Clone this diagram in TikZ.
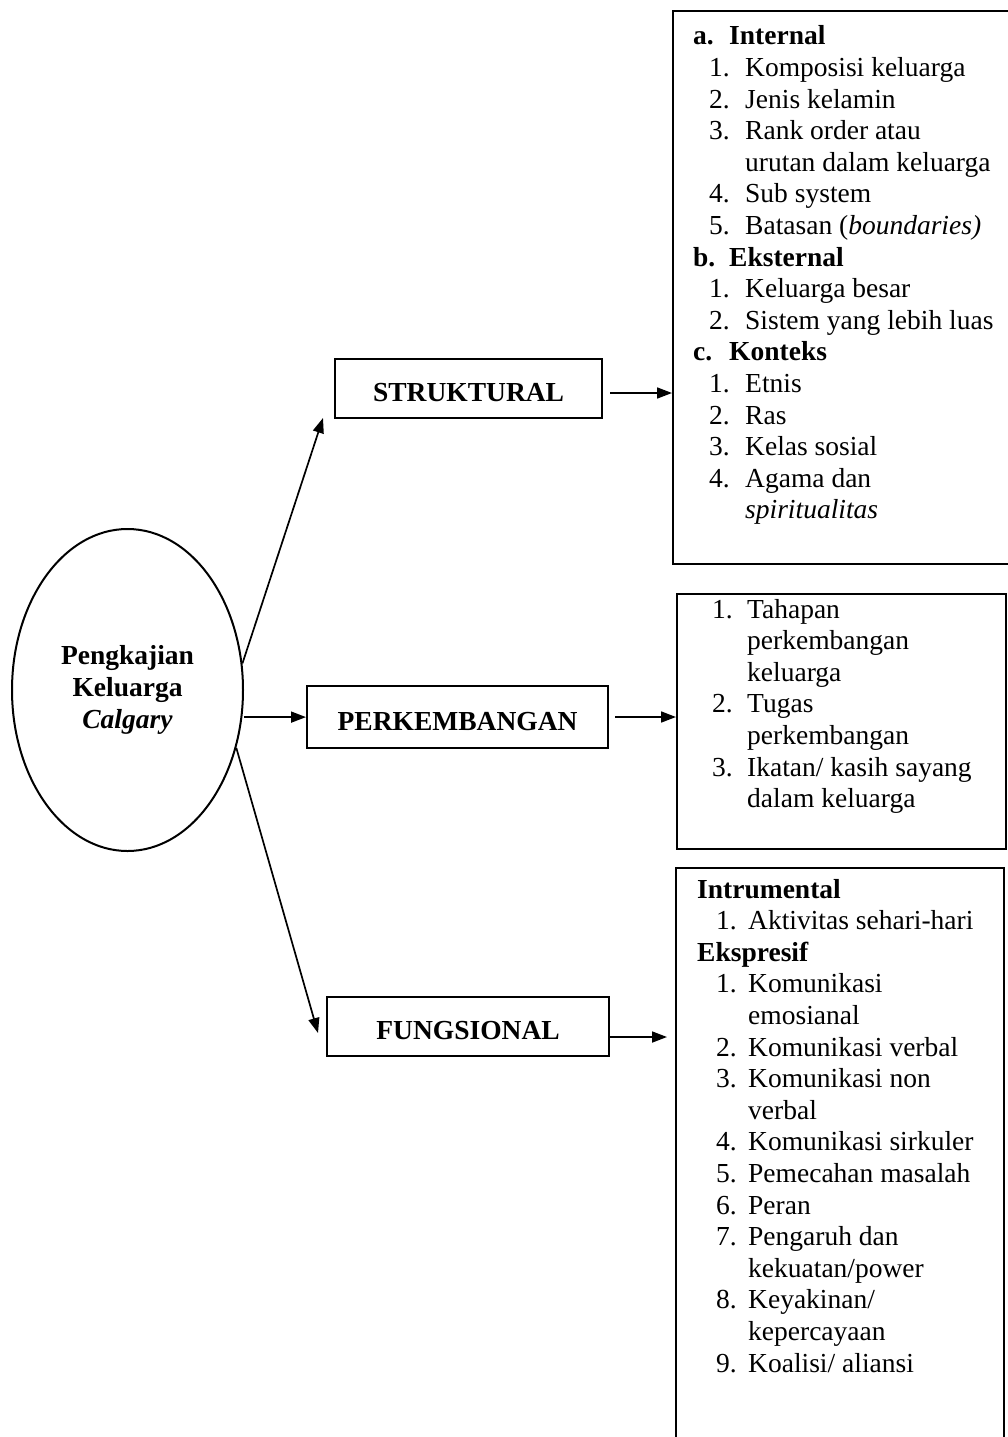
\documentclass[tikz,border=0pt]{standalone}
\usepackage{fontspec}
\setmainfont{Liberation Serif}
\usetikzlibrary{arrows.meta,shapes.geometric}
\newcommand\Hd[2]{\makebox[36pt][l]{\bfseries #1}\textbf{#2}}
\newcommand\ItA[1]{\hspace*{16pt}\makebox[36pt][l]{#1}}
\newcommand\CnA{\hspace*{52pt}}
\newcommand\ItB[1]{\makebox[35pt][l]{#1}}
\newcommand\CnB{\hspace*{35pt}}
\newcommand\ItC[1]{\hspace*{19pt}\makebox[32pt][l]{#1}}
\newcommand\CnC{\hspace*{51pt}}
\begin{document}
\begin{tikzpicture}[x=1pt,y=-1pt,
  box/.style={draw,line width=2.2pt,inner sep=0pt},
  lbl/.style={box,text height=26pt,text depth=0pt,font=\fontsize{27.5}{31.6}\selectfont\bfseries},
  conn/.style={line width=1.7pt,-{Triangle[length=15pt,width=11pt]}},
  lst/.style={inner sep=0pt,anchor=base west,font=\fontsize{27.5}{31.6}\selectfont}]
\useasboundingbox (0,0) rectangle (1008,1437);
\fill[white] (0,0) rectangle (1008,1437);

% central ellipse
\node[draw,line width=2pt,ellipse,minimum width=231pt,minimum height=322pt,inner sep=0pt,
      align=center,font=\fontsize{27.5}{32}\selectfont\bfseries] (root) at (127.5,690)
      {Pengkajian\\Keluarga\\\textit{Calgary}};

% middle labels
\node[lbl,minimum width=267pt,minimum height=59pt,anchor=north west] (strukt) at (334,358) {STRUKTURAL};
\node[lbl,minimum width=301pt,minimum height=62pt,anchor=north west] (perk) at (306,685) {PERKEMBANGAN};
\node[lbl,minimum width=282pt,minimum height=59pt,anchor=north west] (fung) at (326,996) {FUNGSIONAL};

% list boxes
\node[box,minimum width=345pt,minimum height=553pt,anchor=north west] (list1) at (672,10) {};
\node[box,minimum width=329pt,minimum height=255pt,anchor=north west] (list2) at (676,593) {};
\node[box,minimum width=328pt,minimum height=590pt,anchor=north west] (list3) at (675,867) {};

\node[lst] (t1) at (693,45) {\begin{tabular}[t]{@{}l@{}}
\Hd{a.}{Internal}\\
\ItA{1.}Komposisi keluarga\\
\ItA{2.}Jenis kelamin\\
\ItA{3.}Rank order atau\\
\CnA urutan dalam keluarga\\
\ItA{4.}Sub system\\
\ItA{5.}Batasan (\textit{boundaries)}\\
\Hd{b.}{Eksternal}\\
\ItA{1.}Keluarga besar\\
\ItA{2.}Sistem yang lebih luas\\
\Hd{c.}{Konteks}\\
\ItA{1.}Etnis\\
\ItA{2.}Ras\\
\ItA{3.}Kelas sosial\\
\ItA{4.}Agama dan\\
\CnA\textit{spiritualitas}
\end{tabular}};

\node[lst] (t2) at (712,618) {\begin{tabular}[t]{@{}l@{}}
\ItB{1.}Tahapan\\
\CnB perkembangan\\
\CnB keluarga\\
\ItB{2.}Tugas\\
\CnB perkembangan\\
\ItB{3.}Ikatan/ kasih sayang\\
\CnB dalam keluarga
\end{tabular}};

\node[lst] (t3) at (697,898) {\begin{tabular}[t]{@{}l@{}}
\textbf{Intrumental}\\
\ItC{1.}Aktivitas sehari-hari\\
\textbf{Ekspresif}\\
\ItC{1.}Komunikasi\\
\CnC emosianal\\
\ItC{2.}Komunikasi verbal\\
\ItC{3.}Komunikasi non\\
\CnC verbal\\
\ItC{4.}Komunikasi sirkuler\\
\ItC{5.}Pemecahan masalah\\
\ItC{6.}Peran\\
\ItC{7.}Pengaruh dan\\
\CnC kekuatan/power\\
\ItC{8.}Keyakinan/\\
\CnC kepercayaan\\
\ItC{9.}Koalisi/ aliansi
\end{tabular}};

% connectors
\coordinate (sEnd) at (323,418);
\coordinate (fEnd) at (318,1033);
\draw[conn] (root.13) -- (sEnd);
\draw[conn] (perk.west -| root.east) -- (perk.west);
\draw[conn] (root.-28) -- (fEnd);

\coordinate (sOut) at (610,393);
\coordinate (pOut) at (615,717);
\coordinate (fOut) at (608,1037);
\coordinate (fIn) at (667,1037);
\draw[conn] (sOut) -- (sOut -| list1.west);
\draw[conn] (pOut) -- (pOut -| list2.west);
\draw[conn] (fOut) -- (fIn);
\end{tikzpicture}
\end{document}
